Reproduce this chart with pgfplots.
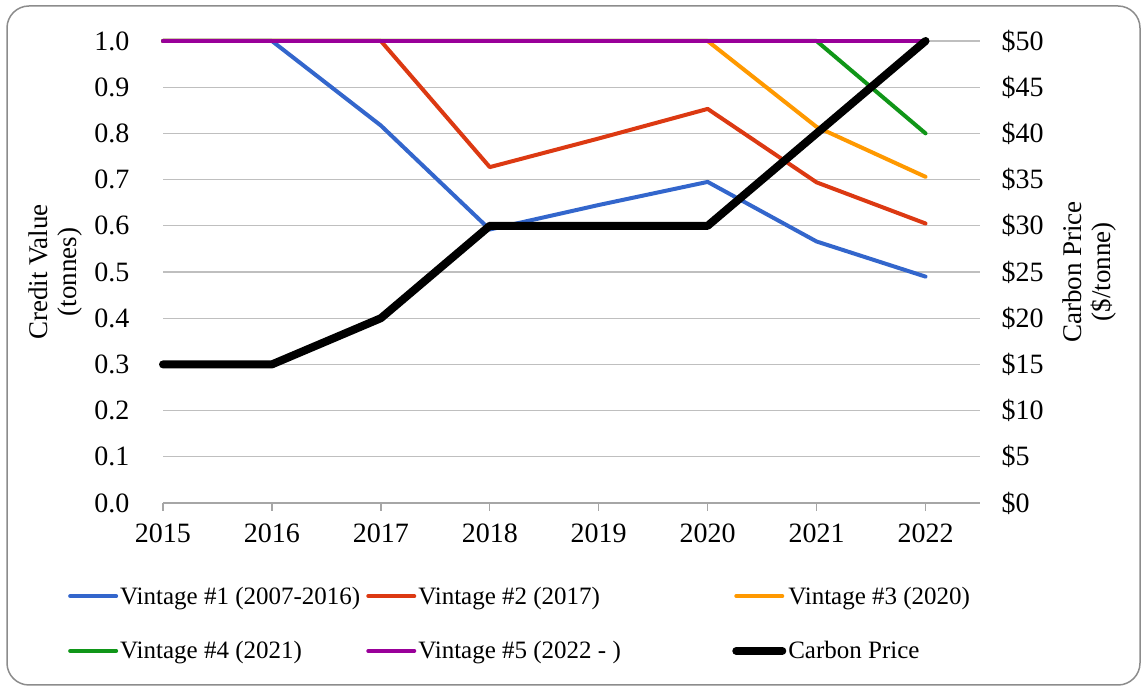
\documentclass[border=0pt]{standalone}
\usepackage{fontspec}
\setmainfont{Liberation Serif}
\usepackage{pgfplots}
\pgfplotsset{compat=1.18}
\definecolor{v1}{HTML}{3366CC}
\definecolor{v2}{HTML}{DC3912}
\definecolor{v3}{HTML}{FF9900}
\definecolor{v4}{HTML}{109618}
\definecolor{v5}{HTML}{990099}
\definecolor{gridc}{HTML}{BFBFBF}
\definecolor{axc}{HTML}{A6A6A6}
\definecolor{framec}{HTML}{8C8C8C}
\begin{document}
\begin{tikzpicture}
\useasboundingbox (0,0) rectangle (1145pt,687pt);
\draw[color=framec, line width=1.5pt, rounded corners=22pt] (7pt,2pt) rectangle (1140pt,681pt);
\begin{axis}[
  at={(163pt,184pt)}, anchor=south west,
  scale only axis, width=817pt, height=462pt,
  xmin=2015, xmax=2022.5, ymin=0, ymax=1,
  xtick={2015,2016,2017,2018,2019,2020,2021,2022},
  xticklabels={2015,2016,2017,2018,2019,2020,2021,2022},
  ytick={0,0.1,0.2,0.3,0.4,0.5,0.6,0.7,0.8,0.9,1},
  yticklabels={0.0,0.1,0.2,0.3,0.4,0.5,0.6,0.7,0.8,0.9,1.0},
  axis x line*=bottom, axis y line*=left,
  y axis line style={draw=none},
  x axis line style={draw=axc, line width=1.3pt},
  ymajorgrids, grid style={gridc, line width=1.3pt},
  xtick style={draw=axc, line width=1.3pt}, ytick style={draw=none},
  tick align=outside, major tick length=8pt,
  tick label style={font=\fontsize{28}{32}\selectfont},
  yticklabel style={xshift=-22pt},
  xticklabel style={yshift=-9pt},
  ylabel={Credit Value\\(tonnes)},
  ylabel style={align=center, at={(axis description cs:-0.132,0.5)}, anchor=center, font=\fontsize{27}{29}\selectfont},
  clip=false,
  every axis plot/.append style={line width=4pt, line join=round, line cap=round},
]
\addplot[v1] coordinates {(2015,1) (2016,1) (2017,0.817) (2018,0.592) (2019,0.645) (2020,0.695) (2021,0.566) (2022,0.49)};
\addplot[v2] coordinates {(2015,1) (2016,1) (2017,1) (2018,0.727) (2019,0.789) (2020,0.853) (2021,0.694) (2022,0.605)};
\addplot[v3] coordinates {(2015,1) (2016,1) (2017,1) (2018,1) (2019,1) (2020,1) (2021,0.814) (2022,0.706)};
\addplot[v4] coordinates {(2015,1) (2016,1) (2017,1) (2018,1) (2019,1) (2020,1) (2021,1) (2022,0.8)};
\addplot[v5] coordinates {(2015,1) (2016,1) (2017,1) (2018,1) (2019,1) (2020,1) (2021,1) (2022,1)};
\end{axis}
\begin{axis}[
  at={(163pt,184pt)}, anchor=south west,
  scale only axis, width=817pt, height=462pt,
  xmin=2015, xmax=2022.5, ymin=0, ymax=50,
  axis x line=none, axis y line*=right,
  y axis line style={draw=none},
  ytick={0,5,10,15,20,25,30,35,40,45,50},
  yticklabels={\$0,\$5,\$10,\$15,\$20,\$25,\$30,\$35,\$40,\$45,\$50},
  ytick style={draw=none},
  tick label style={font=\fontsize{28}{32}\selectfont},
  yticklabel style={xshift=18pt},
  ylabel={Carbon Price\\(\$/tonne)},
  ylabel style={align=center, at={(axis description cs:1.1346,0.5)}, anchor=center, rotate=0, font=\fontsize{27}{29}\selectfont},
  clip=false,
  legend columns=3,
  legend cell align=left,
  legend image code/.code={\draw[#1, line cap=round] (0pt,0pt) -- (46pt,0pt);},
  legend style={at={(axis description cs:-0.120,-0.172)}, anchor=north west, draw=none, fill=none,
    font=\fontsize{25}{30}\selectfont, row sep=32pt,
    /tikz/every even column/.append style={column sep=4pt}},
]
\addlegendimage{v1, line width=4pt}\addlegendentry{Vintage \#1 (2007-2016)}
\addlegendimage{v2, line width=4pt}\addlegendentry{\makebox[308pt][l]{Vintage \#2 (2017)}}
\addlegendimage{v3, line width=4pt}\addlegendentry{Vintage \#3 (2020)}
\addlegendimage{v4, line width=4pt}\addlegendentry{Vintage \#4 (2021)}
\addlegendimage{v5, line width=4pt}\addlegendentry{Vintage \#5 (2022 - )}
\addplot[black, line width=8pt, line join=round, line cap=round] coordinates {(2015,15) (2016,15) (2017,20) (2018,30) (2019,30) (2020,30) (2021,40) (2022,50)};
\addlegendentry{Carbon Price}
\end{axis}
\end{tikzpicture}
\end{document}
